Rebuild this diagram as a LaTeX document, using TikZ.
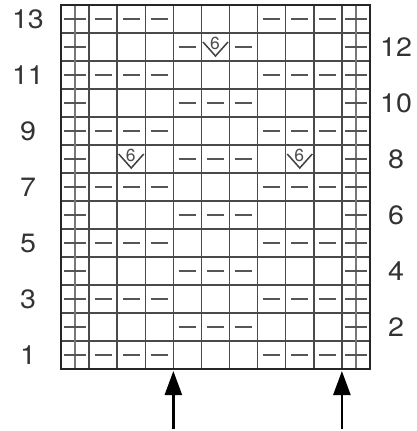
\documentclass[tikz,border=0pt]{standalone}
\usepackage{fontspec}
\setmainfont{TeX Gyre Heros}
\newfontfamily\numfont[FakeStretch=1.08]{TeX Gyre Heros}
\usetikzlibrary{arrows.meta}
\definecolor{gridc}{HTML}{4A4A4A}
\definecolor{markc}{HTML}{555555}
\definecolor{txtc}{HTML}{333333}
\tikzset{
  gridline/.style={draw=gridc, line width=1.4pt},
  border/.style={draw=black!85, line width=1.8pt},
  plusv/.style={draw=markc!80, line width=2pt},
  plush/.style={draw=markc, line width=1.9pt},
  minusmark/.style={draw=markc, line width=2.3pt},
  vmark/.style={draw=black!75, line width=1.5pt, line join=miter},
  rownum/.style={font=\numfont\fontsize{26.5}{26.5}\selectfont, text=txtc, anchor=base, inner sep=0pt},
  sixnum/.style={font=\fontsize{17.5}{17.5}\selectfont, text=black!70, anchor=base, inner sep=0pt},
  uparrow/.style={draw=black, line width=2.5pt, -{Triangle[width=17pt,length=24pt]}}
}
\begin{document}
\begin{tikzpicture}[x=1pt,y=-1pt]
\useasboundingbox (0,0) rectangle (416,431);
\def\cw{28.09}
% grid
\foreach \k in {1,...,10} \draw[gridline] ({61+\k*\cw},5) -- ({61+\k*\cw},369);
\foreach \r in {1,...,12} \draw[gridline] (61,{5+\r*28}) -- (370,{5+\r*28});
% plus signs (vertical strokes join into a full-height line)
\draw[plusv] ({61+0.5*\cw},5) -- ({61+0.5*\cw},369);
\draw[plusv] ({61+10.5*\cw},5) -- ({61+10.5*\cw},369);
\foreach \r in {1,...,13} {
  \draw[plush] ({61+0.5*\cw-11},{383-28*\r}) -- ++(22,0);
  \draw[plush] ({61+10.5*\cw-11},{383-28*\r}) -- ++(22,0);
}
% odd rows: purls
\foreach \r in {1,3,...,13}
  \foreach \k in {2,3,4,8,9,10}
    \draw[minusmark] ({61+(\k-0.5)*\cw-8.5},{383-28*\r}) -- ++(17,0);
% even rows
\foreach \r in {2,4,6,8,10}
  \foreach \k in {5,6,7}
    \draw[minusmark] ({61+(\k-0.5)*\cw-8.5},{383-28*\r}) -- ++(17,0);
\foreach \k in {5,7}
  \draw[minusmark] ({61+(\k-0.5)*\cw-8.5},{383-28*12}) -- ++(17,0);
% V6 symbols
\foreach \k/\r/\nm in {6/12/va,3/8/vb,9/8/vc} {
  \draw[vmark] ({61+(\k-0.5)*\cw-12.5},{383-28*\r-5}) -- ({61+(\k-0.5)*\cw},{383-28*\r+9}) -- ({61+(\k-0.5)*\cw+12.5},{383-28*\r-5});
  \node[sixnum] (\nm) at ({61+(\k-0.5)*\cw-0.5},{383-28*\r+2.5}) {6};
}
% border
\draw[border] (61,5) rectangle (370,369);
% row numbers
\foreach \r in {1,3,...,13}
  \node[rownum] (L\r) at (28,{383-28*\r+9.5}) {\r};
\foreach \r in {2,4,...,12}
  \node[rownum] (R\r) at (396,{383-28*\r+9.5}) {\r};
% arrows
\coordinate (a1s) at ({61+4*\cw},429);
\coordinate (a1e) at ({61+4*\cw},371);
\coordinate (a2s) at ({61+10*\cw},429);
\coordinate (a2e) at ({61+10*\cw},371);
\draw[uparrow] (a1s) -- (a1e);
\draw[uparrow] (a2s) -- (a2e);
\end{tikzpicture}
\end{document}
